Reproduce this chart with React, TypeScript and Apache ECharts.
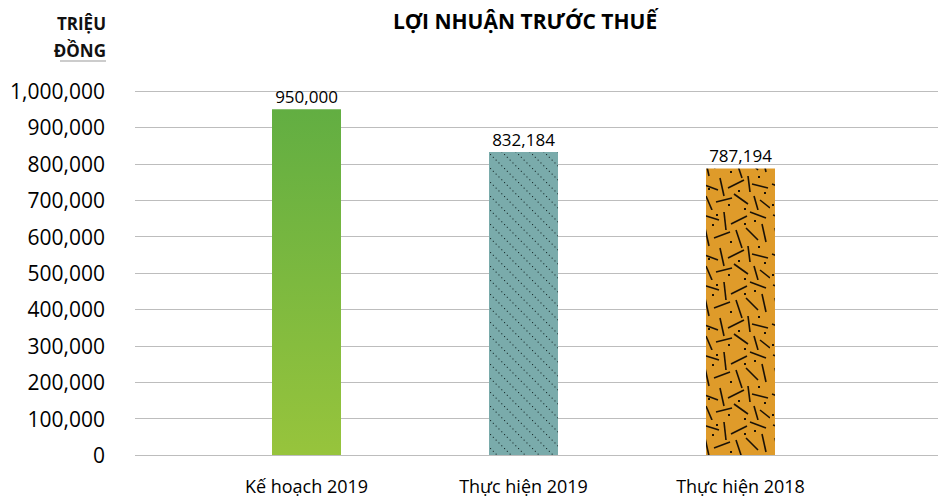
import React, { useEffect, useRef } from "react";
import * as echarts from "echarts";

const categories = ["Kế hoạch 2019", "Thực hiện 2019", "Thực hiện 2018"];
const values = [950000, 832184, 787194];
const yTicks = [0, 100000, 200000, 300000, 400000, 500000, 600000, 700000, 800000, 900000, 1000000];
const title = "LỢI NHUẬN TRƯỚC THUẾ";
const unitLines = ["TRIỆU", "ĐỒNG"];

const FONT = "'Open Sans', 'Noto Sans', sans-serif";
const fmt = (v: number) => v.toLocaleString("en-US");

function hatchTile(): HTMLCanvasElement {
  const c = document.createElement("canvas");
  c.width = 14;
  c.height = 14;
  const g = c.getContext("2d")!;
  g.fillStyle = "#7aabab";
  g.fillRect(0, 0, 14, 14);
  g.fillStyle = "#1f3232";
  for (let k = 0; k < 5; k++) g.fillRect(k * 2.8, k * 2.8, 1.1, 1.1);
  return c;
}

// hand-placed dashes for the confetti texture: [x1, y1, x2, y2]
const dashSegs = [
  [3, 5, 19, 10], [24, 2, 26, 20], [31, 14, 47, 6], [50, 2, 66, 8], [62, 14, 66, 32],
  [5, 18, 9, 36], [14, 28, 30, 22], [36, 20, 42, 38], [46, 18, 58, 30], [2, 44, 18, 50],
  [20, 38, 24, 56], [28, 48, 44, 40], [48, 36, 50, 52], [52, 44, 68, 48], [6, 56, 12, 70],
  [16, 62, 32, 58], [34, 54, 48, 64], [54, 56, 58, 70], [60, 60, 70, 68],
];
const dashDots = [
  [12, 14], [30, 31], [44, 13], [58, 36], [8, 48], [38, 50], [64, 52], [16, 4], [44, 68], [2, 64], [54, 10], [28, 64],
];

function confettiTile(): HTMLCanvasElement {
  const c = document.createElement("canvas");
  c.width = 70;
  c.height = 70;
  const g = c.getContext("2d")!;
  g.fillStyle = "#df9b2a";
  g.fillRect(0, 0, 70, 70);
  g.strokeStyle = "#1a1208";
  g.lineWidth = 1.6;
  g.lineCap = "butt";
  dashSegs.forEach(([a, b, d, e]) => {
    g.beginPath();
    g.moveTo(a, b);
    g.lineTo(d, e);
    g.stroke();
  });
  g.fillStyle = "#1a1208";
  dashDots.forEach(([a, b]) => g.fillRect(a, b, 2, 2));
  return c;
}

export default function App() {
  const ref = useRef<HTMLDivElement>(null);
  useEffect(() => {
    document.body.style.margin = "0";
    const chart = echarts.init(ref.current!, null, { renderer: "svg" });
    const fills: any[] = [
      new echarts.graphic.LinearGradient(0, 0, 0, 1, [
        { offset: 0, color: "#62ae42" },
        { offset: 1, color: "#97c43c" },
      ]),
      { image: hatchTile(), repeat: "repeat" },
      { image: confettiTile(), repeat: "repeat" },
    ];
    chart.setOption({
      animation: false,
      title: {
        text: title,
        left: 520,
        textAlign: "center",
        top: 5,
        textStyle: { fontFamily: FONT, fontWeight: "bold", fontSize: 21, color: "#000" },
      },
      graphic: [
        {
          type: "text",
          x: 106,
          y: 10,
          style: {
            text: unitLines.join("\n"),
            fontFamily: FONT,
            fontWeight: "bold",
            fontSize: 17,
            lineHeight: 27,
            align: "right",
            fill: "#111",
          },
        },
        {
          type: "line",
          shape: { x1: 60, y1: 61, x2: 106, y2: 61 },
          style: { stroke: "#999", lineWidth: 1 },
        },
      ],
      grid: [
        { left: 135, right: 0, top: 91, bottom: 42 },
        { left: 198, width: 651, top: 91, bottom: 42 },
      ],
      xAxis: [
        { gridIndex: 0, type: "category", data: categories, show: false },
        {
          gridIndex: 1,
          type: "category",
          data: categories,
          axisLine: { show: false },
          axisTick: { show: false },
          axisLabel: { fontFamily: FONT, fontSize: 18, color: "#000", margin: 22 },
        },
      ],
      yAxis: [
        {
          gridIndex: 0,
          type: "value",
          min: yTicks[0],
          max: yTicks[yTicks.length - 1],
          interval: yTicks[1] - yTicks[0],
          axisLine: { show: false },
          axisTick: { show: false },
          axisLabel: { fontFamily: FONT, fontSize: 21, color: "#000", margin: 30, formatter: (v: number) => fmt(v) },
          splitLine: { lineStyle: { color: "#bdbdbd", width: 1 } },
        },
        {
          gridIndex: 1,
          type: "value",
          min: yTicks[0],
          max: yTicks[yTicks.length - 1],
          interval: yTicks[1] - yTicks[0],
          show: false,
          splitLine: { show: false },
        },
      ],
      series: [
        {
          type: "bar",
          xAxisIndex: 1,
          yAxisIndex: 1,
          barWidth: 69,
          data: values.map((v, i) => ({ value: v, itemStyle: { color: fills[i] } })),
          label: {
            show: true,
            position: "top",
            distance: 4,
            fontFamily: FONT,
            fontSize: 17,
            color: "#000",
            formatter: (p: any) => fmt(p.value),
          },
        },
      ],
    });
    return () => chart.dispose();
  }, []);
  return <div ref={ref} style={{ width: 938, height: 497 }} />;
}
